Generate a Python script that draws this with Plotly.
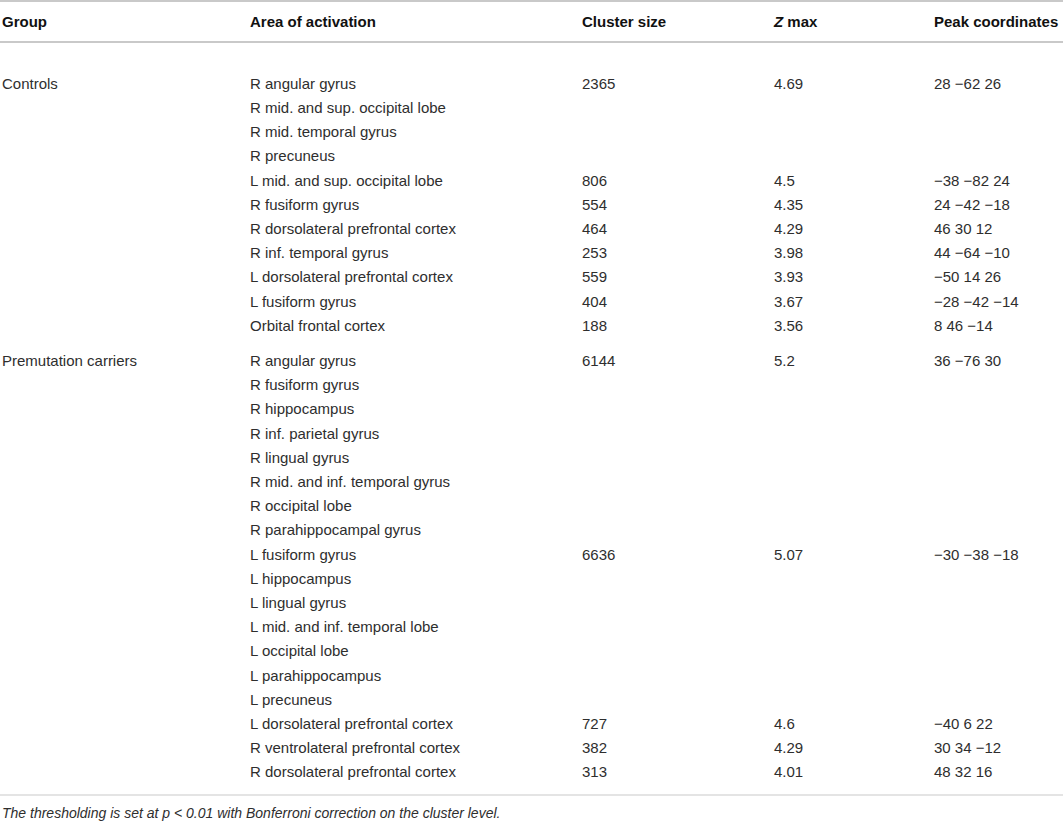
import plotly.graph_objects as go

# table content
columns = ["Group", "Area of activation", "Cluster size", "<i>Z</i> max", "Peak coordinates"]

groups = ["Controls", "Premutation carriers"]

controls_area = [
    "R angular gyrus", "R mid. and sup. occipital lobe", "R mid. temporal gyrus",
    "R precuneus", "L mid. and sup. occipital lobe", "R fusiform gyrus",
    "R dorsolateral prefrontal cortex", "R inf. temporal gyrus",
    "L dorsolateral prefrontal cortex", "L fusiform gyrus", "Orbital frontal cortex",
]
controls_size = ["2365", "", "", "", "806", "554", "464", "253", "559", "404", "188"]
controls_z = ["4.69", "", "", "", "4.5", "4.35", "4.29", "3.98", "3.93", "3.67", "3.56"]
controls_peak = ["28 −62 26", "", "", "", "−38 −82 24", "24 −42 −18", "46 30 12",
                 "44 −64 −10", "−50 14 26", "−28 −42 −14", "8 46 −14"]

carriers_area = [
    "R angular gyrus", "R fusiform gyrus", "R hippocampus", "R inf. parietal gyrus",
    "R lingual gyrus", "R mid. and inf. temporal gyrus", "R occipital lobe",
    "R parahippocampal gyrus", "L fusiform gyrus", "L hippocampus", "L lingual gyrus",
    "L mid. and inf. temporal lobe", "L occipital lobe", "L parahippocampus",
    "L precuneus", "L dorsolateral prefrontal cortex",
    "R ventrolateral prefrontal cortex", "R dorsolateral prefrontal cortex",
]
carriers_size = ["6144", "", "", "", "", "", "", "", "6636", "", "", "", "", "", "",
                 "727", "382", "313"]
carriers_z = ["5.2", "", "", "", "", "", "", "", "5.07", "", "", "", "", "", "",
              "4.6", "4.29", "4.01"]
carriers_peak = ["36 −76 30", "", "", "", "", "", "", "", "−30 −38 −18", "", "", "",
                 "", "", "", "−40 6 22", "30 34 −12", "48 32 16"]

footnote = "The thresholding is set at p < 0.01 with Bonferroni correction on the cluster level."

W, H = 1063, 823
col_x = [2, 250, 582, 774, 934]
header_y = 23
first_y = 85
row_step = 24.2
group_gap = 11
font = "Liberation Sans, Arial, sans-serif"
body_color = "#2e2e2e"
rule_color = "#c9c9c9"

fig = go.Figure()

# header
fig.add_trace(go.Scatter(
    x=col_x, y=[header_y] * len(columns), mode="text",
    text=["<b>%s</b>" % c for c in columns], textposition="middle right",
    textfont=dict(family=font, size=15, color="#111111"),
    hoverinfo="skip", showlegend=False,
))

# body rows
blocks = [
    (controls_area, controls_size, controls_z, controls_peak),
    (carriers_area, carriers_size, carriers_z, carriers_peak),
]
start = first_y
for g, (area, size, z, peak) in enumerate(blocks):
    ys = [start + i * row_step for i in range(len(area))]
    cols = [[groups[g]] + [""] * (len(area) - 1), area, size, z, peak]
    for cx, vals in zip(col_x, cols):
        fig.add_trace(go.Scatter(
            x=[cx] * len(vals), y=ys, mode="text", text=vals,
            textposition="middle right",
            textfont=dict(family=font, size=15, color=body_color),
            hoverinfo="skip", showlegend=False,
        ))
    start = ys[-1] + row_step + group_gap

# footnote
fig.add_annotation(x=0, y=813, xref="x", yref="y", text="<i>%s</i>" % footnote,
                   showarrow=False, xanchor="left", yanchor="middle",
                   font=dict(family=font, size=14, color=body_color))

# rules
for yy, w in [(1, 2), (42, 2), (795, 1.2)]:
    fig.add_shape(type="line", x0=0, x1=W, y0=yy, y1=yy, xref="x", yref="y",
                  line=dict(color=rule_color, width=w))

fig.update_xaxes(range=[0, W], visible=False, fixedrange=True)
fig.update_yaxes(range=[H, 0], visible=False, fixedrange=True)
fig.update_layout(width=W, height=H, margin=dict(l=0, r=0, t=0, b=0),
                  plot_bgcolor="white", paper_bgcolor="white")

fig.write_html("out.html", config={"displayModeBar": False},
               post_script="document.body.style.margin='0';")
